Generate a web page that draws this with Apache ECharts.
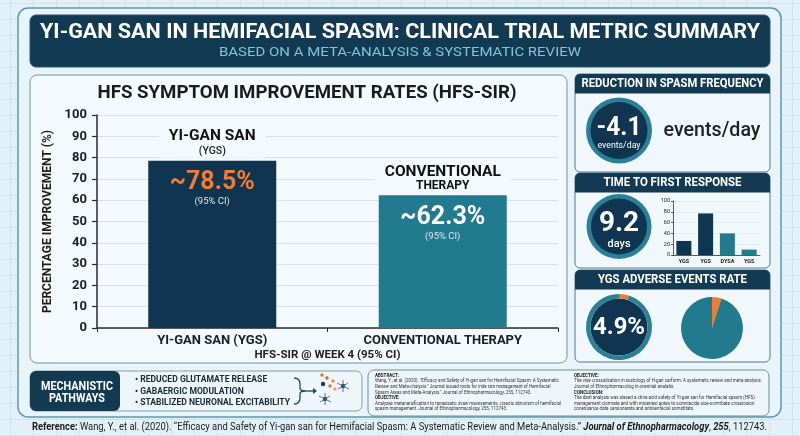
<!DOCTYPE html>
<html><head><meta charset="utf-8">
<script src="https://cdn.jsdelivr.net/npm/echarts@6/dist/echarts.min.js"></script>
<style>
html,body{margin:0;padding:0;background:#e2f0f7;}
#c{width:800px;height:436px;background-color:#e2f0f7;
background-image:linear-gradient(#cde4ee 1px,transparent 1px),linear-gradient(90deg,#cde4ee 1px,transparent 1px);
background-size:23px 16px;background-position:10px 3px;}
</style></head><body><div id="c"></div>
<script>
// ---------- data ----------
const categories = ['YI-GAN SAN (YGS)', 'CONVENTIONAL THERAPY'];
const improvement = [78.5, 62.3];
const barTitleMain = ['YI-GAN SAN', 'CONVENTIONAL'];
const barTitleSub = ['(YGS)', 'THERAPY'];
const responseCats = ['YGS', 'YGS', 'DYSA', 'YGS'];
const responseVals = [26, 77, 40, 10];
const adverseRate = 4.9;
const spasmReduction = '-4.1';
const firstResponseDays = '9.2';
const bullets = ['• REDUCED GLUTAMATE RELEASE', '• GABAERGIC MODULATION', '• STABILIZED NEURONAL EXCITABILITY'];
const absLeft = [
  ['b', 'ABSTRACT:'],
  ['n', 'Wang, Y., et al. (2020). "Efficacy and Safety of Yi-gan san for Hemifacial Spasm: A Systematic'],
  ['n', 'Review and Meta-chalysis." Journal issued roots for inde rain management of Hemifacial'],
  ['n', 'Spasm Areas and Meta-Analysis." Journal of Ethnopharmacology, 255, 112743.'],
  ['b', 'OBJECTIVE:'],
  ['n', 'Analyzes metanarsification to ranasisatic svaw mavosements, crasois abnurism of hemifacial'],
  ['n', 'spasm management. Journal of Ethnopharmacology, 255, 112743.']
];
const absRight = [
  ['b', 'OBJECTIVE:'],
  ['n', 'The vise crossalization in sustology of H-gan carform: A systematic review and meta-analysis.'],
  ['n', 'Journal of Ethnopharmacolog in overinial analatis.'],
  ['b', 'CONCLUSION:'],
  ['n', 'The dant analysis was slased a ctina acid safety of Yi-gan san for Hemifacial spasm (HFS)'],
  ['n', 'management clomrate and with mioerresi aotes to scmniacide size-scmribate crossiosion'],
  ['n', 'conerisance data cersionarata and anboenfacial somstitats.']
];

// ---------- helpers ----------
const NAVY = '#0f3550', TEAL = '#217a8e', ORANGE = '#f07a2e', HEAD = '#123a52';
const mctx = document.createElement('canvas').getContext('2d');
function measure(text, size, weight, fam, fst) {
  mctx.font = `${fst || 'normal'} ${weight || 'normal'} ${size}px ${fam || 'Roboto'}`;
  return mctx.measureText(text).width;
}
function T(text, x, y, o) {
  o = o || {};
  const size = o.size || 12, weight = o.weight || 'normal', fam = o.family || 'Roboto';
  let sx = o.sx || 1;
  if (o.w) sx = o.w / measure(text, size, weight, fam, o.fst);
  return {
    type: 'text', x: x, y: y, scaleX: sx, z: o.z || 20, silent: true,
    style: {
      text: text, fontSize: size, fontWeight: weight, fontFamily: fam, fontStyle: o.fst || 'normal',
      fill: o.color || '#222', textAlign: o.align || 'center', textVerticalAlign: 'middle',
      align: o.align || 'center', verticalAlign: 'middle'
    }
  };
}
function R(x, y, w, h, fill, stroke, r, z, lw) {
  return { type: 'rect', z: z === undefined ? -10 : z, silent: true,
    shape: { x: x, y: y, width: w, height: h, r: r === undefined ? 6 : r },
    style: { fill: fill, stroke: stroke || null, lineWidth: lw || 1 } };
}
function C(cx, cy, r, fill, z) {
  return { type: 'circle', z: z || 1, silent: true, shape: { cx: cx, cy: cy, r: r }, style: { fill: fill } };
}
function Q(x1, y1, cx, cy, x2, y2, col) {
  return { type: 'bezierCurve', z: 5, silent: true, shape: { x1: x1, y1: y1, cpx1: cx, cpy1: cy, x2: x2, y2: y2 }, style: { stroke: col, fill: null, lineWidth: 1.3 } };
}
function L(x1, y1, x2, y2, col, lw) {
  return { type: 'line', z: 5, silent: true, shape: { x1: x1, y1: y1, x2: x2, y2: y2 }, style: { stroke: col, lineWidth: lw || 1 } };
}

const G = [];
// outer frame
G.push(R(18, 8, 763, 409, '#e9f4f9', '#5b98b0', 10, -20, 1.5));
// header
G.push(R(30, 15, 740, 52, HEAD, '#2a5570', 6, -10));
G.push(T('YI-GAN SAN IN HEMIFACIAL SPASM: CLINICAL TRIAL METRIC SUMMARY', 400, 32.5, { size: 21, weight: 'bold', color: '#ffffff', w: 720 }));
G.push(T('BASED ON A META-ANALYSIS & SYSTEMATIC REVIEW', 400, 53, { size: 13, color: '#7ec6da', w: 362 }));
// main panel
G.push(R(30, 75, 537, 288, '#f3f9fc', '#6d95a8', 7, -10));
G.push(T('HFS SYMPTOM IMPROVEMENT RATES (HFS-SIR)', 307, 93.5, { size: 17.5, weight: 'bold', color: '#1b1b1b', w: 419 }));

// right panels
const panels = [[74, 98, 'REDUCTION IN SPASM FREQUENCY', 182], [173, 95, 'TIME TO FIRST RESPONSE', 138], [270, 92, 'YGS ADVERSE EVENTS RATE', 149]];
panels.forEach(function (p) {
  G.push(R(575, p[0], 195, p[1], '#f1f8fb', '#55798b', 5, -10));
  G.push(R(575, p[0], 195, 19.5, HEAD, null, [5, 5, 0, 0], -9));
  G.push(T(p[2], 672.5, p[0] + 10, { size: 12, weight: 'bold', color: '#ffffff', w: p[3] }));
});
// circles
G.push(C(619, 130.5, 33, '#2a8099', 1));
G.push(C(619, 130.5, 28.5, NAVY, 1));
G.push(T(spasmReduction, 619, 128, { size: 26, weight: 'bold', color: '#ffffff', w: 45 }));
G.push(T('events/day', 619, 146, { size: 9, color: '#ffffff', w: 43 }));
G.push(T('events/day', 712, 131, { size: 21, weight: 500, color: '#222222', w: 97 }));
G.push(C(619, 226.5, 32.5, '#2a8099', 1));
G.push(C(619, 226.5, 28, NAVY, 1));
G.push(T(firstResponseDays, 619, 224, { size: 28, weight: 'bold', color: '#ffffff' }));
G.push(T('days', 619, 244, { size: 11, weight: 500, color: '#ffffff' }));
G.push(C(619, 327, 28.5, NAVY, 1));
G.push(T(adverseRate + '%', 619, 327.5, { size: 24.5, weight: 'bold', color: '#ffffff', w: 52 }));

// mechanistic box
G.push(R(30, 371, 332, 40, '#eef6fa', '#7f9eae', 6, -10));
G.push(R(30, 371, 90, 40, HEAD, null, 6, -9));
G.push(T('MECHANISTIC', 77, 386.5, { size: 12, weight: 'bold', color: '#ffffff', w: 72 }));
G.push(T('PATHWAYS', 77, 398.5, { size: 12, weight: 'bold', color: '#ffffff', w: 56 }));
const bsx = 155 / measure(bullets[2], 9.5, 'bold');
const by = [380, 391.5, 403];
bullets.forEach(function (b, i) { G.push(T(b, 135, by[i], { size: 9.5, weight: 'bold', color: '#1c2a33', align: 'left', sx: bsx })); });
// brace + arrow + neuron icon
const BC = '#1d4a62';
G.push(Q(294, 378, 300, 378, 300, 384, BC));
G.push(L(300, 384, 300, 388, BC, 1.3));
G.push(Q(300, 388, 300, 391, 305, 391, BC));
G.push(Q(305, 391, 300, 391, 300, 394, BC));
G.push(L(300, 394, 300, 398, BC, 1.3));
G.push(Q(300, 398, 300, 404, 294, 404, BC));
G.push(L(305, 391, 313, 391, BC, 1.3));
G.push({ type: 'polygon', z: 5, silent: true, shape: { points: [[313, 388], [317, 391], [313, 394]] }, style: { fill: BC } });
[[322, 375, '#d9793a'], [327, 378, '#c8692c'], [333, 381, '#e08a50'], [330, 386, '#d9793a'], [335, 389, '#e8a070']].forEach(function (d) {
  G.push(C(d[0], d[1], 1.7, d[2], 5));
});
G.push(C(323, 384, 2.2, '#1d3a4e', 5));
function neuron(cx, cy) {
  G.push(C(cx, cy, 2.2, '#2a5b72', 5));
  [[0, -6], [5, -3], [6, 3], [0, 6], [-5, 3], [-6, -3]].forEach(function (d) {
    G.push(L(cx, cy, cx + d[0], cy + d[1], '#2a5b72', 0.8));
  });
}
neuron(343, 386); neuron(325, 399);

// abstract box
G.push(R(368, 370, 401, 46, '#eef6f9', '#6b8ea0', 6, -10));
function absCol(lines, x, maxW) {
  let widest = 0;
  lines.forEach(function (l) { widest = Math.max(widest, measure(l[1], 5, l[0] === 'b' ? 'bold' : 'normal')); });
  const s = Math.min(1, maxW / widest);
  lines.forEach(function (l, i) {
    G.push(T(l[1], x, 375.5 + i * 5.6, { size: 5, weight: l[0] === 'b' ? 'bold' : 'normal', color: l[0] === 'b' ? '#1a1a1a' : '#333', align: 'left', sx: s }));
  });
}
absCol(absLeft, 375, 186); absCol(absRight, 574, 188);

// reference line
const refParts = [['Reference:', 'bold', 'normal'], [' Wang, Y., et al. (2020). \u201cEfficacy and Safety of Yi-gan san for Hemifacial Spasm: A Systematic Review and Meta-Analysis.\u201d ', 'normal', 'normal'], ['Journal of Ethnopharmacology', 'bold', 'italic'], [', ', 'normal', 'normal'], ['255', 'bold', 'italic'], [', 112743.', 'normal', 'normal']];
let refW = 0; refParts.forEach(function (p) { refW += measure(p[0], 11, p[1], 'Roboto', p[2]); });
G.push({
  type: 'text', x: 32, y: 427, scaleX: 735 / refW, z: 20, silent: true,
  style: {
    text: '{b|Reference:} Wang, Y., et al. (2020). \u201cEfficacy and Safety of Yi-gan san for Hemifacial Spasm: A Systematic Review and Meta-Analysis.\u201d {bi|Journal of Ethnopharmacology}, {bi|255}, 112743.',
    fontSize: 11, fontFamily: 'Roboto', fill: '#1a1a1a', textAlign: 'left', textVerticalAlign: 'middle', align: 'left', verticalAlign: 'middle',
    rich: {
      b: { fontSize: 11, fontFamily: 'Roboto', fontWeight: 'bold', fill: '#1a1a1a' },
      bi: { fontSize: 11, fontFamily: 'Roboto', fontWeight: 'bold', fontStyle: 'italic', fill: '#1a1a1a' }
    }
  }
});

// ---------- chart ----------
const barColors = [NAVY, TEAL];
const chart = echarts.init(document.getElementById('c'), null, { renderer: 'canvas' });
chart.setOption({
  backgroundColor: 'transparent',
  animation: false,
  textStyle: { fontFamily: 'Roboto' },
  graphic: { elements: G },
  grid: [
    { left: 97, top: 115, width: 461, height: 213 },
    { left: 673, top: 201, width: 87, height: 54 }
  ],
  xAxis: [
    {
      type: 'category', gridIndex: 0, data: categories,
      axisLine: { lineStyle: { color: '#2b2b2b', width: 1.5 } },
      axisTick: { show: true, length: 4, lineStyle: { color: '#2b2b2b' } },
      axisLabel: { fontSize: 13, fontWeight: 'bold', color: '#1e1e1e', margin: 6 },
      name: 'HFS-SIR @ WEEK 4 (95% CI)', nameLocation: 'middle', nameGap: 21,
      nameTextStyle: { fontSize: 11.5, fontWeight: 'bold', color: '#1e1e1e' }
    },
    {
      type: 'category', gridIndex: 1, data: responseCats,
      axisLine: { lineStyle: { color: '#333', width: 0.8 } },
      axisTick: { show: false },
      axisLabel: { fontSize: 5.5, fontWeight: 'bold', color: '#222', margin: 4 }
    }
  ],
  yAxis: [
    {
      type: 'value', gridIndex: 0, min: 0, max: 100, interval: 10,
      axisLine: { show: true, lineStyle: { color: '#2b2b2b', width: 1.5 } },
      axisTick: { show: true, length: 5, lineStyle: { color: '#2b2b2b', width: 1.2 } },
      axisLabel: { fontSize: 13, fontWeight: 'bold', color: '#1e1e1e', margin: 10 },
      splitLine: { lineStyle: { color: '#d8e0e4', width: 1 } },
      name: 'PERCENTAGE IMPROVEMENT (%)', nameLocation: 'middle', nameGap: 38,
      nameTextStyle: { fontSize: 12, fontWeight: 'bold', color: '#1e1e1e' }
    },
    {
      type: 'value', gridIndex: 1, min: 0, max: 100, interval: 20,
      axisLine: { show: true, lineStyle: { color: '#333', width: 0.8 } },
      axisTick: { show: true, length: 2, lineStyle: { color: '#333', width: 0.8 } },
      axisLabel: { fontSize: 5.5, color: '#222', margin: 3 },
      splitLine: { lineStyle: { color: '#dde4e8', width: 0.6 } }
    }
  ],
  series: [
    {
      type: 'bar', xAxisIndex: 0, yAxisIndex: 0, barWidth: 128, silent: true,
      data: improvement.map(function (v, i) { return { value: v, itemStyle: { color: barColors[i] } }; }),
      label: {
        show: true, position: 'insideTop', distance: 9,
        formatter: function (p) { return '{v' + p.dataIndex + '|~' + p.value + '%}\n{ci|(95% CI)}'; },
        rich: {
          v0: { fontSize: 25, fontWeight: 'bold', color: '#f47c30', lineHeight: 26, fontFamily: 'Roboto' },
          v1: { fontSize: 25, fontWeight: 'bold', color: '#ffffff', lineHeight: 26, fontFamily: 'Roboto' },
          ci: { fontSize: 9.5, color: '#dce7ed', lineHeight: 12, fontFamily: 'Roboto' }
        }
      }
    },
    {
      type: 'scatter', xAxisIndex: 0, yAxisIndex: 0, symbolSize: 0, silent: true, z: 3,
      itemStyle: { opacity: 1 },
      data: improvement.slice(),
      label: {
        show: true, position: 'top', distance: 3, opacity: 1,
        formatter: function (p) { return '{t|' + barTitleMain[p.dataIndex] + '}\n{s' + p.dataIndex + '|' + barTitleSub[p.dataIndex] + '}'; },
        backgroundColor: '#f3f9fc', padding: [2, 10, 0, 10],
        rich: {
          t: { fontSize: 15.5, fontWeight: 'bold', color: '#111111', lineHeight: 17, fontFamily: 'Roboto' },
          s0: { fontSize: 10.5, fontWeight: 500, color: '#222222', lineHeight: 13, fontFamily: 'Roboto' },
          s1: { fontSize: 12, fontWeight: 'bold', color: '#111111', lineHeight: 12, fontFamily: 'Roboto' }
        }
      }
    },
    {
      type: 'bar', xAxisIndex: 1, yAxisIndex: 1, barWidth: 15, silent: true,
      data: responseVals.map(function (v, i) { return { value: v, itemStyle: { color: i < 2 ? NAVY : TEAL } }; })
    },
    {
      type: 'pie', center: [712, 328], radius: 31, startAngle: 90, silent: true,
      label: { show: false }, labelLine: { show: false },
      data: [{ value: adverseRate, itemStyle: { color: ORANGE } }, { value: +(100 - adverseRate).toFixed(1), itemStyle: { color: TEAL } }]
    },
    {
      type: 'pie', center: [619, 327], radius: [28.5, 33], startAngle: 90, silent: true, z: 2,
      label: { show: false }, labelLine: { show: false },
      data: [{ value: adverseRate, itemStyle: { color: ORANGE } }, { value: +(100 - adverseRate).toFixed(1), itemStyle: { color: '#2a8099' } }]
    }
  ]
});
</script></body></html>
